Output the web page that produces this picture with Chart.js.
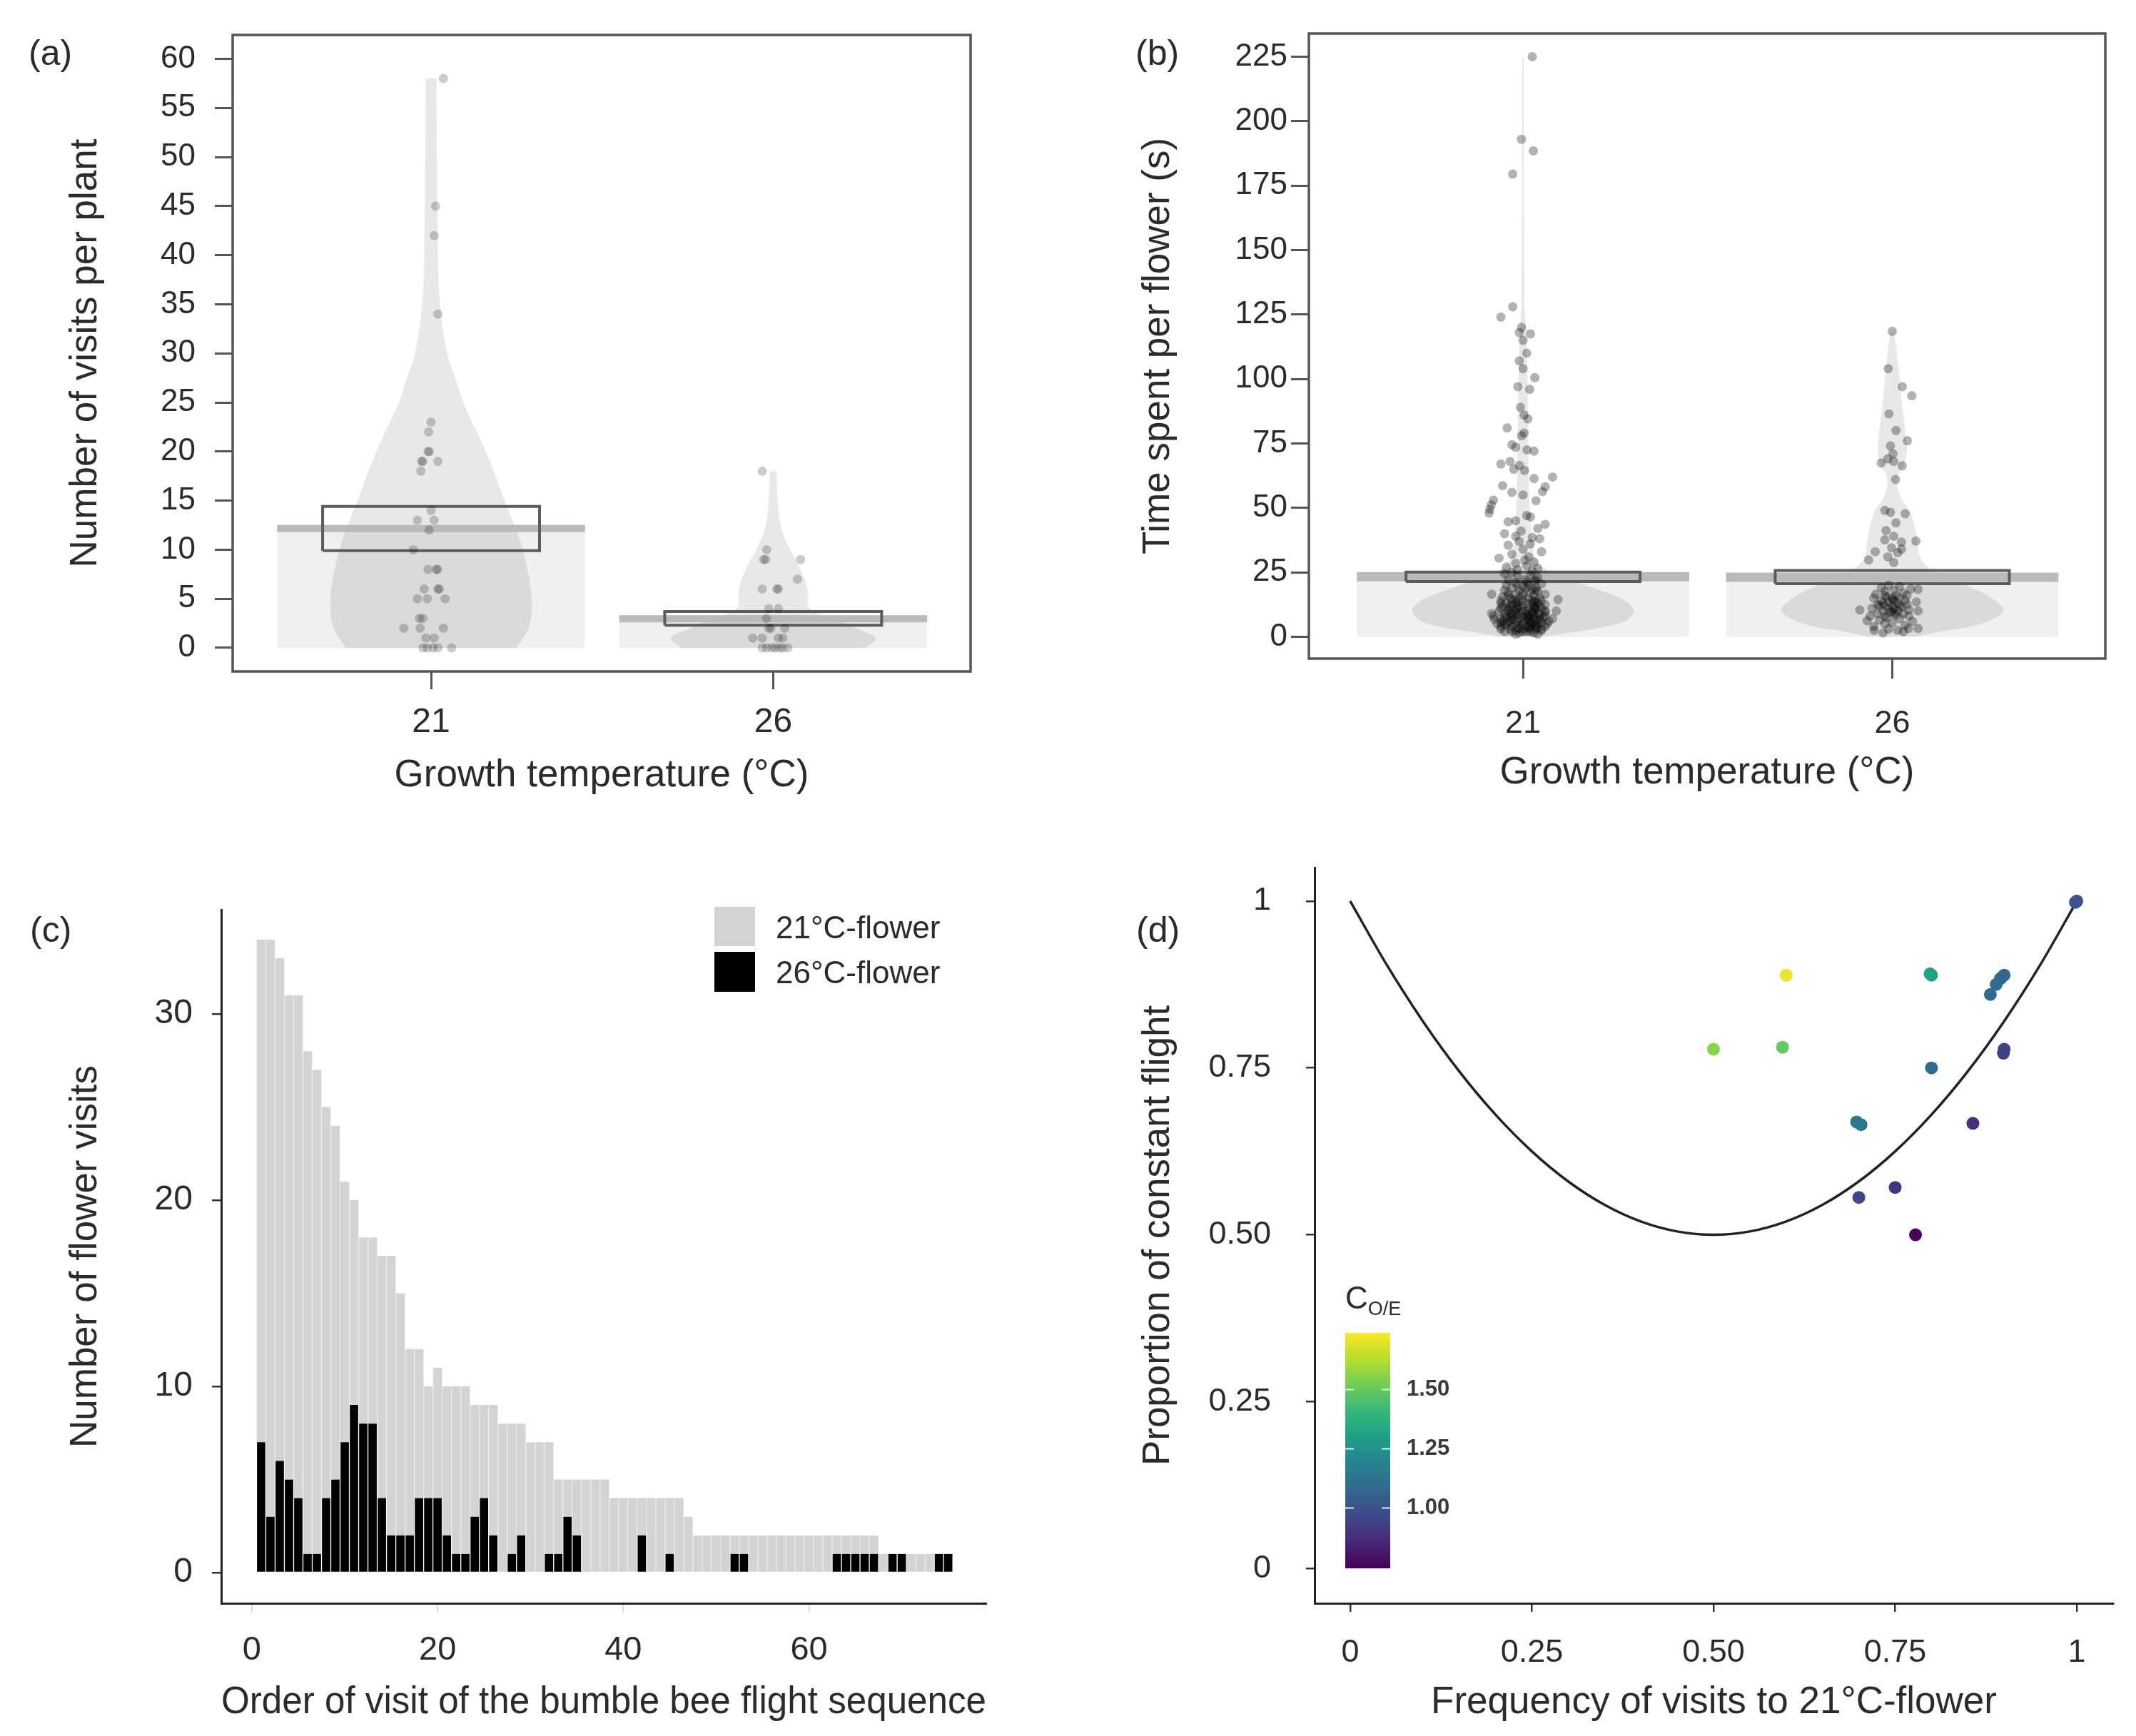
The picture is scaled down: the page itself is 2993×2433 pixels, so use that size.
<!DOCTYPE html>
<html>
<head>
<meta charset="utf-8">
<script src="https://cdn.jsdelivr.net/npm/chart.js@4.4.1/dist/chart.umd.min.js"></script>
<style>
html, body { margin: 0; padding: 0; background: #fff; }
body { width: 2993px; height: 2433px; position: relative; overflow: hidden;
       font-family: 'Liberation Sans', Arial, Helvetica, sans-serif; color: #2b2b2b; }
canvas { position: absolute; }
.txt { position: absolute; transform: translateY(-50%); white-space: nowrap; }
.panel { font-size: 50px; }
.key { position: absolute; }
</style>
</head>
<body>
<canvas id="chartA" width="1450" height="1170" style="left:0;top:0"></canvas>
<canvas id="chartB" width="1493" height="1170" style="left:1500px;top:0"></canvas>
<canvas id="chartC" width="1450" height="1233" style="left:0;top:1200px"></canvas>
<canvas id="chartD" width="1493" height="1233" style="left:1500px;top:1200px"></canvas>
<canvas id="chartBar" width="200" height="330" style="left:1885px;top:1868px"></canvas>

<div class="txt panel" style="left:40px;top:74px">(a)</div>
<div class="txt panel" style="left:1591px;top:74px">(b)</div>
<div class="txt panel" style="left:42px;top:1303px">(c)</div>
<div class="txt panel" style="left:1592px;top:1303px">(d)</div>

<div class="key" style="left:1001px;top:1271px;width:57px;height:55px;background:#d3d3d3"></div>
<div class="key" style="left:1001px;top:1334px;width:57px;height:56px;background:#000"></div>
<div class="txt" style="left:1087px;top:1300px;font-size:44px">21°C-flower</div>
<div class="txt" style="left:1087px;top:1363px;font-size:44px">26°C-flower</div>

<div class="txt" style="left:1885px;top:1822px;font-size:44px">C<sub style="font-size:27px">O/E</sub></div>

<script>
// ---- panel (a): visits per plant ----
const groups = ['21', '26'];
const visitTicks = [0, 5, 10, 15, 20, 25, 30, 35, 40, 45, 50, 55, 60];
const visitMean = [12.15, 2.96];
const visitHdi = [[9.9, 14.4], [2.3, 3.7]];
// violin outline: value levels and half widths (x units)
const visitViolinY21 = [0, 2, 5, 10, 15, 20, 25, 27, 30, 35, 40, 50, 58];
const visitViolinW21 = [0.249, 0.285, 0.294, 0.268, 0.215, 0.16, 0.094, 0.075, 0.047, 0.026, 0.02, 0.017, 0.016];
const visitViolinY26 = [0, 1, 2, 3, 4, 6, 8, 10, 12, 15, 18];
const visitViolinW26 = [0.27, 0.30, 0.243, 0.178, 0.107, 0.1, 0.08, 0.05, 0.025, 0.013, 0.01];
// [value, jitter]
const visitPoints21 = [[58,0.036],[45,0.013],[42,0.009],[34,0.02],[23,0],[22,-0.007],[20,-0.009],[20,-0.005],
  [19,-0.028],[19,-0.024],[19,0.02],[18,-0.03],[14,0],[13,-0.04],[13,0.009],[12,-0.006],[10,-0.052],
  [8,-0.009],[8,0.019],[8,0.015],[6,-0.02],[6,0.02],[6,0.024],[5,-0.04],[5,-0.011],[5,0.041],
  [3,-0.034],[3,-0.024],[2,-0.08],[2,-0.032],[2,0.036],[1,-0.015],[1,0.009],
  [0,-0.024],[0,-0.011],[0,0.006],[0,0.02],[0,0.06]];
const visitPoints26 = [[18,-0.032],[10,-0.019],[9,-0.028],[9,-0.022],[9,0.08],[7,0.071],[6,-0.032],[6,0.015],
  [6,0.011],[4,-0.013],[4,0.015],[3,-0.02],[2,-0.013],[2,-0.007],[2,0.034],[1,-0.06],[1,-0.032],[1,0.015],
  [1,0.028],[0,-0.032],[0,-0.019],[0,-0.004],[0,0.006],[0,0.019],[0,0.028],[0,0.043]];

// ---- panel (b): time per flower ----
const timeTicks = [0, 25, 50, 75, 100, 125, 150, 175, 200, 225];
const timeMean = [23.3, 23.1];
const timeHdi = [[21.4, 25.1], [20.6, 25.7]];
const timeViolinY21 = [0, 1, 3, 6, 10, 14, 18, 22, 26, 30, 40, 60, 80, 100, 120, 130, 225];
const timeViolinW21 = [0.06, 0.1, 0.19, 0.276, 0.30, 0.276, 0.21, 0.13, 0.064, 0.035, 0.023, 0.016, 0.014, 0.012, 0.008, 0.004, 0.002];
const timeViolinY26 = [0, 2, 5, 10, 15, 20, 25, 30, 40, 48, 55, 62, 66, 72, 80, 92, 100, 112, 118];
const timeViolinW26 = [0.06, 0.13, 0.24, 0.30, 0.27, 0.2, 0.12, 0.078, 0.065, 0.05, 0.02, 0.014, 0.03, 0.04, 0.035, 0.025, 0.02, 0.011, 0.004];
const timePoints21 = [[225,0.025],[193,-0.004],[188.5,0.028],[179.5,-0.028],[128,-0.028],[124,-0.06],[120,-0.004],
  [118,-0.01],[117.5,0.02],[115,0],[110,0.01],[107,-0.01],[104,0],[100.5,0.032],[97,-0.014],[96,0.018],
  [89,-0.007],[86,0.003],[84.5,0.013],[81,-0.043],[79,0.003],[78,-0.004],[74.5,-0.03],[73.5,-0.02],
  [72.5,0.011],[72,0.03],[68,-0.035],[67,-0.06],[66.5,-0.01],[65,-0.025],[64.5,0.004],[62,0.08],[61.4,0.03],
  [58.6,-0.055],[58.2,0.06],[56.3,0.053],[56,-0.03],[55,0],[53,-0.08],[52.8,0.035],[51.2,-0.086],[49.5,-0.09],
  [48,-0.092],[47,0.01],[46.5,0.02],[45,-0.02],[44.6,-0.04],[43.6,0.06],[42,0.04],[41,-0.005],[40,-0.05],
  [39,-0.02],[38.5,0.025],[38,0.045],[37,-0.01],[36,0.02],[35.5,-0.04],[34,0],[33,0.05],[32,-0.03],[31,0.015],
  [30.5,-0.065],[29.7,0.005],[29,0.03],[28.5,-0.02],[27.5,0.01],[27,-0.045],[26.5,0.04],[26,-0.015],
  [25.5,0.025],[25,-0.03],
  [1,-0.02],[1.5,0.03],[2,-0.05],[2,0.01],[2.5,0.05],[1,0.04],[2,-0.03],[1.5,-0.01],
  [3,-0.06],[3,0],[3.5,0.04],[3,0.02],[4,-0.03],[4,0.06],[3.5,-0.015],[4,0.01],[4.5,-0.045],[4.5,0.03],
  [5,-0.07],[5,-0.02],[5,0.02],[5.5,0.05],[5.5,-0.04],[6,0],[6,0.035],[6,-0.055],[6.5,0.015],[6.5,-0.025],[5,0.065],[6,0.07],
  [7,-0.06],[7,-0.01],[7,0.03],[7.5,0.055],[7.5,-0.035],[8,0],[8,0.02],[8,-0.045],[8.5,0.04],[8.5,-0.015],[7,0.08],[8,-0.08],
  [9,-0.05],[9,0.01],[9,0.045],[9.5,-0.02],[9.5,0.025],[10,-0.065],[10,0],[10,0.06],[10.5,-0.035],[10.5,0.035],[9,-0.085],[10,0.09],
  [11,-0.04],[11,0.015],[11,0.05],[11.5,-0.01],[12,-0.055],[12,0.03],[12,0],[12.5,0.06],[12.5,-0.03],
  [13,-0.045],[13,0.01],[13,0.04],[13.5,-0.015],[14,0.025],[14,-0.06],[14,0.05],[14.5,-0.02],
  [15,-0.035],[15,0.015],[15,0.045],[15.5,-0.055],[16,0],[16,0.03],[16.5,-0.02],[16.5,0.06],
  [17,-0.04],[17,0.02],[17.5,0.04],[18,-0.01],[18,-0.05],[18.5,0.025],
  [19,-0.03],[19,0.035],[19.5,0],[20,-0.045],[20,0.015],[20.5,0.05],
  [21,-0.02],[21.5,0.03],[22,-0.04],[22,0.005],[23,0.04],[23.5,-0.015],[24,0.02],[24.5,-0.05],
  [16.5,-0.085],[6.8,-0.078],[14.4,0.095],
  [3,-0.035],[3.5,0.015],[4,0.035],[4.5,-0.005],[5,0],[5.5,0.025],[5.5,-0.06],[6,-0.015],[6.5,0.045],[7,0.01],
  [7.5,-0.05],[7.5,0.015],[8,0.06],[8.5,-0.03],[9,-0.01],[9.5,0.06],[10,-0.04],[10,0.025],[11,-0.015],[11.5,0.035],
  [12,-0.035],[13,-0.02],[13.5,0.03],[14,0],[2.5,-0.02],[2,0.02],[3,0.05],[4,-0.06],[6,0.02],[8,0.03],
  [2,0.0],[3,-0.01],[4,0.02],[5,0.04],[5,-0.05],[6,-0.035],[7,0.045],[7,-0.03],[8,0.01],[9,-0.03],
  [9,0.03],[10,0.01],[10,-0.02],[11,0.03],[11,-0.06],[12,0.045],[12,-0.015],[13,-0.06],[13,0.025],[14,0.035],
  [14,-0.03],[15,-0.01],[16,-0.04],[17,0.0],[18,0.035],[19,0.01],[20,-0.015],[21,0.01],[22,0.035],[3,0.035]];
const timePoints26 = [[118.5,0],[104,-0.011],[97,0.027],[93.5,0.053],[86.5,-0.009],[80,0.01],[76,0.041],[74,-0.005],
  [71,0.002],[69,-0.012],[67.4,-0.03],[68,0.004],[66.3,0.027],[61,0.009],[49,-0.02],[48.3,-0.005],[47.7,0.035],
  [44.2,0.01],[41.2,-0.017],[39,0.004],[37.6,-0.02],[37.1,0.064],[36.7,0.025],[34.5,-0.002],[34,0.025],
  [33,-0.046],[32.6,0.015],[31,-0.012],[29.8,-0.064],[28.8,0.004],
  [20,-0.01],[19.5,0.02],[19,-0.03],[18.5,0.05],[18.4,0.07],[18,0.005],[17.5,-0.02],[17,0.03],[16.5,-0.045],
  [16,0.01],[16,0.04],[15.5,-0.015],[15,-0.05],[15,0.02],[14.5,0],[14,0.035],[14,-0.03],[13.5,0.065],
  [13.5,-0.01],[13,0.015],[12.5,-0.04],[12.5,0.04],[12,0],[12,-0.02],[11.5,0.025],[11,-0.055],[11,0.005],
  [10.5,0.045],[10.4,-0.088],[10,0.07],[10,-0.025],[10,0.015],[9.5,-0.005],[9,0.03],[9,-0.04],[8.5,0.01],
  [8,-0.06],[8,0.045],[7.5,-0.015],[7,0.02],[6.5,-0.035],[6.2,-0.068],[6,0.055],[5.5,0],[5,-0.02],[4.5,0.035],
  [4,-0.05],[3.2,0.07],[3.2,0.044],[3,-0.01],[2.5,-0.049],[2.5,0.015],[2,0.03],[1.5,-0.025],
  [14,0.005],[13,-0.025],[12,0.02],[11,-0.01],[10,0.0],[9,0.005],[8,-0.02],[15,0.0],[16,-0.02],[12,-0.035]];

// ---- panel (c): flower visits by order in sequence ----
const visitOrder = [1,2,3,4,5,6,7,8,9,10,11,12,13,14,15,16,17,18,19,20,21,22,23,24,25,26,27,28,29,30,
  31,32,33,34,35,36,37,38,39,40,41,42,43,44,45,46,47,48,49,50,51,52,53,54,55,56,57,58,59,60,
  61,62,63,64,65,66,67,68,69,70,71,72,73,74,75];
const flowers26 = [7,3,6,5,4,1,1,4,5,7, 9,8,8,4,2,2,2,4,4,4, 2,1,1,3,4,2,0,1,2,0,
  0,1,1,3,2,0,0,0,0,0, 0,2,0,0,1,0,0,0,0,0, 0,1,1,0,0,0,0,0,0,0, 0,0,1,1,1,1,1,0,1,1, 0,0,0,1,1];
const flowers21 = [27,31,27,26,27,27,26,21,19,14, 11,10,10,13,15,13,10,8,6,7, 8,9,9,6,5,7,8,7,6,7,
  7,6,4,2,3,5,5,5,4,4, 4,2,4,4,3,4,3,2,2,2, 2,1,1,2,2,2,2,2,2,2, 2,2,1,1,1,1,1,1,0,0, 1,1,1,0,0];
const orderTicks = [0, 20, 40, 60];
const countTicks = [0, 10, 20, 30];

// ---- panel (d): constancy vs frequency ----
const freqTicks = [0, 0.25, 0.5, 0.75, 1];
const freqTickLabels = ['0', '0.25', '0.50', '0.75', '1'];
const expectFreq = [0,0.05,0.1,0.15,0.2,0.25,0.3,0.35,0.4,0.45,0.5,0.55,0.6,0.65,0.7,0.75,0.8,0.85,0.9,0.95,1];
const expectConst = [1,0.905,0.82,0.745,0.68,0.625,0.58,0.545,0.52,0.505,0.5,0.505,0.52,0.545,0.58,0.625,0.68,0.745,0.82,0.905,1];
const beeFreq  = [1.0, 0.998, 0.6, 0.8, 0.798, 0.9, 0.895, 0.889, 0.881, 0.5, 0.595, 0.9, 0.899, 0.8, 0.697, 0.703, 0.857, 0.75, 0.7, 0.778];
const beeConst = [1.0, 0.998, 0.889, 0.889, 0.891, 0.889, 0.884, 0.875, 0.86, 0.778, 0.781, 0.778, 0.772, 0.75, 0.669, 0.665, 0.667, 0.571, 0.556, 0.5];
const beeCoe   = [1.0, 1.0, 1.71, 1.31, 1.31, 1.08, 1.08, 1.10, 1.09, 1.56, 1.50, 0.95, 0.94, 1.10, 1.15, 1.15, 0.88, 0.91, 0.96, 0.76];
const coeRange = [0.745, 1.74];
const coeTicks = [1.0, 1.25, 1.5];
const coeTickLabels = ['1.00', '1.25', '1.50'];

// ---------------------------------------------------------------
Chart.defaults.font.family = "'Liberation Sans', Arial, Helvetica, sans-serif";
Chart.defaults.color = '#2b2b2b';
Chart.defaults.animation = false;
Chart.defaults.events = [];
Chart.defaults.plugins.legend.display = false;
Chart.defaults.plugins.tooltip.enabled = false;

// fixed axis sizes, and no extra label padding pushed into the layout
const noPad = s => { s.paddingTop = 0; s.paddingBottom = 0; s.paddingLeft = 0; s.paddingRight = 0; };
const setTicks = vals => scale => { scale.ticks = vals.map(v => ({ value: v })); };
const fitWidth = w => scale => { scale.width = w; noPad(scale); };
const fitHeight = h => scale => { scale.height = h; noPad(scale); };

const viridis = ['#440154','#482878','#3e4989','#31688e','#26828e','#1f9e89','#35b779','#6ece58','#b5de2b','#fde725'];
function hexRgb(h) { return [1, 3, 5].map(i => parseInt(h.substr(i, 2), 16)); }
function viridisAt(t) {
  t = Math.min(1, Math.max(0, t));
  const n = viridis.length - 1;
  const i = Math.min(n - 1, Math.floor(t * n));
  const f = t * n - i;
  const a = hexRgb(viridis[i]), b = hexRgb(viridis[i + 1]);
  return 'rgb(' + a.map((c, k) => Math.round(c + (b[k] - c) * f)).join(',') + ')';
}

// box around the plotting area for (a) and (b)
const framePlugin = {
  id: 'frame',
  afterDatasetsDraw(chart, args, opts) {
    const { ctx, chartArea: a } = chart;
    ctx.save();
    ctx.strokeStyle = opts.color || '#555';
    ctx.lineWidth = opts.width || 3;
    ctx.strokeRect(a.left, a.top, a.right - a.left, a.bottom - a.top);
    ctx.restore();
  }
};

// one pirate-plot group: points, HDI box, mean line, violin, mean bar (top drawn first)
function pirateSets(pos, mean, hdi, vY, vW, pts, radius, alpha, meanWidth) {
  const hw = 0.317, bw = 0.45;
  return [
    { type: 'scatter', data: pts.map(p => ({ x: pos + p[1], y: p[0] })),
      pointRadius: radius, pointBackgroundColor: 'rgba(0,0,0,' + alpha + ')', pointBorderWidth: 0 },
    { type: 'line', data: [{ x: pos - hw, y: hdi[0] }, { x: pos + hw, y: hdi[0] }, { x: pos + hw, y: hdi[1] },
        { x: pos - hw, y: hdi[1] }, { x: pos - hw, y: hdi[0] }],
      borderColor: '#5c5c5c', borderWidth: 4, pointRadius: 0, fill: false },
    { type: 'line', data: [{ x: pos - bw, y: mean }, { x: pos + bw, y: mean }],
      borderColor: '#bababa', borderWidth: meanWidth, borderCapStyle: 'butt', pointRadius: 0, fill: false },
    { type: 'line', indexAxis: 'y', data: vY.map((v, i) => ({ x: pos - vW[i], y: v })),
      borderWidth: 0, pointRadius: 0, tension: 0.35, fill: false },
    { type: 'line', indexAxis: 'y', data: vY.map((v, i) => ({ x: pos + vW[i], y: v })),
      borderWidth: 0, pointRadius: 0, tension: 0.35, fill: '-1', backgroundColor: 'rgba(0,0,0,0.09)' },
    { type: 'line', data: [{ x: pos - bw, y: mean }, { x: pos + bw, y: mean }],
      borderWidth: 0, pointRadius: 0, fill: 'origin', backgroundColor: '#f0f0f0' }
  ];
}

function pirateOptions(cfg) {
  return {
    responsive: false, devicePixelRatio: 1,
    layout: { padding: cfg.padding },
    scales: {
      x: {
        type: 'linear', min: 0.42, max: 2.577, bounds: 'data',
        afterBuildTicks: setTicks([1, 2]), afterFit: fitHeight(cfg.xHeight),
        ticks: { callback: (v, i) => groups[i], font: { size: cfg.xTickSize }, padding: cfg.xTickPad, maxRotation: 0 },
        grid: { display: true, drawOnChartArea: false, drawTicks: true, tickLength: cfg.tickLen, color: '#555', lineWidth: 3 },
        border: { display: false },
        title: { display: true, text: 'Growth temperature (°C)', font: { size: 53 }, padding: { top: 0, bottom: cfg.xTitlePad } }
      },
      y: {
        type: 'linear', min: cfg.yMin, max: cfg.yMax, bounds: 'data',
        afterBuildTicks: setTicks(cfg.yTicks), afterFit: fitWidth(cfg.yWidth),
        ticks: { callback: (v, i) => String(cfg.yTicks[i]), font: { size: 44 }, padding: cfg.yTickPad },
        grid: { display: true, drawOnChartArea: false, drawTicks: true, tickLength: 25, color: '#555', lineWidth: 3 },
        border: { display: false },
        title: { display: true, text: cfg.yTitle, font: { size: 53 }, padding: { top: cfg.yTitlePad, bottom: 0 } }
      }
    },
    plugins: { frame: { color: '#555', width: 3.5 } }
  };
}

// (a)
new Chart(document.getElementById('chartA'), {
  type: 'scatter',
  data: { datasets: [
    ...pirateSets(1, visitMean[0], visitHdi[0], visitViolinY21, visitViolinW21, visitPoints21, 6.5, 0.2, 10),
    ...pirateSets(2, visitMean[1], visitHdi[1], visitViolinY26, visitViolinW26, visitPoints26, 6.5, 0.2, 10)
  ] },
  options: pirateOptions({
    padding: { left: 0, top: 49, right: 90, bottom: 0 },
    xHeight: 229, xTickSize: 48, xTickPad: 18, tickLen: 25, xTitlePad: 51,
    yMin: -2.4, yMax: 62.43, yTicks: visitTicks, yWidth: 326, yTickPad: 27,
    yTitle: 'Number of visits per plant', yTitlePad: 89
  }),
  plugins: [framePlugin]
});

// (b)
new Chart(document.getElementById('chartB'), {
  type: 'scatter',
  data: { datasets: [
    ...pirateSets(1, timeMean[0], timeHdi[0], timeViolinY21, timeViolinW21, timePoints21, 6.5, 0.3, 13),
    ...pirateSets(2, timeMean[1], timeHdi[1], timeViolinY26, timeViolinW26, timePoints26, 6.5, 0.3, 13)
  ] },
  options: pirateOptions({
    padding: { left: 0, top: 47, right: 43, bottom: 0 },
    xHeight: 247, xTickSize: 45, xTickPad: 37, tickLen: 28, xTitlePad: 55,
    yMin: -8.47, yMax: 234.0, yTicks: timeTicks, yWidth: 334, yTickPad: 5,
    yTitle: 'Time spent per flower (s)', yTitlePad: 92
  }),
  plugins: [framePlugin]
});

// (c)
new Chart(document.getElementById('chartC'), {
  type: 'bar',
  data: { datasets: [
    { label: '26°C-flower', data: visitOrder.map((o, i) => ({ x: o, y: flowers26[i] })),
      backgroundColor: '#000', borderColor: 'rgba(255,255,255,0.3)',
      borderWidth: { left: 1, right: 1, top: 0, bottom: 0 }, barPercentage: 1, categoryPercentage: 1 },
    { label: '21°C-flower', data: visitOrder.map((o, i) => ({ x: o, y: flowers21[i] })),
      backgroundColor: '#d3d3d3', borderColor: '#ebebeb',
      borderWidth: { left: 1, right: 1, top: 0, bottom: 0 }, barPercentage: 1, categoryPercentage: 1 }
  ] },
  options: {
    responsive: false, devicePixelRatio: 1,
    layout: { padding: { left: 0, top: 75, right: 68, bottom: 0 } },
    scales: {
      x: {
        type: 'linear', stacked: true, offset: false, min: -3.3, max: 79.1, bounds: 'data',
        afterBuildTicks: setTicks(orderTicks), afterFit: fitHeight(186),
        ticks: { callback: (v, i) => String(orderTicks[i]), font: { size: 47 }, padding: 25, maxRotation: 0 },
        grid: { display: true, offset: false, drawOnChartArea: false, tickLength: 13, color: '#dcdcdc', lineWidth: 2 },
        border: { display: true, color: '#222', width: 3 },
        title: { display: true, text: 'Order of visit of the bumble bee flight sequence', font: { size: 53 }, padding: { top: 0, bottom: 15 } }
      },
      y: {
        type: 'linear', stacked: true, min: -1.65, max: 35.6, bounds: 'data',
        afterBuildTicks: setTicks(countTicks), afterFit: fitWidth(310),
        ticks: { callback: (v, i) => String(countTicks[i]), font: { size: 48 }, padding: 27 },
        grid: { display: true, drawOnChartArea: false, tickLength: 13, color: '#333', lineWidth: 2.5 },
        border: { display: true, color: '#222', width: 3 },
        title: { display: true, text: 'Number of flower visits', font: { size: 53 }, padding: { top: 89, bottom: 0 } }
      }
    }
  }
});

// (d)
new Chart(document.getElementById('chartD'), {
  type: 'scatter',
  data: { datasets: [
    { type: 'scatter', data: beeFreq.map((f, i) => ({ x: f, y: beeConst[i] })),
      pointRadius: 9, pointBorderWidth: 0,
      pointBackgroundColor: beeCoe.map(c => viridisAt((c - coeRange[0]) / (coeRange[1] - coeRange[0]))) },
    { type: 'line', data: expectFreq.map((f, i) => ({ x: f, y: expectConst[i] })),
      borderColor: '#222', borderWidth: 3.5, pointRadius: 0, cubicInterpolationMode: 'monotone', fill: false }
  ] },
  options: {
    responsive: false, devicePixelRatio: 1,
    layout: { padding: { left: 0, top: 16, right: 32, bottom: 0 } },
    scales: {
      x: {
        type: 'linear', min: -0.049, max: 1.05, bounds: 'data',
        afterBuildTicks: setTicks(freqTicks), afterFit: fitHeight(186),
        ticks: { callback: (v, i) => freqTickLabels[i], font: { size: 45 }, padding: 31, maxRotation: 0 },
        grid: { display: true, drawOnChartArea: false, tickLength: 12, color: '#333', lineWidth: 2.5 },
        border: { display: true, color: '#222', width: 3 },
        title: { display: true, text: 'Frequency of visits to 21°C-flower', font: { size: 53 }, padding: { top: 0, bottom: 15 } }
      },
      y: {
        type: 'linear', min: -0.052, max: 1.05, bounds: 'data',
        afterBuildTicks: setTicks(freqTicks), afterFit: fitWidth(342),
        ticks: { callback: (v, i) => freqTickLabels[i], font: { size: 45 }, padding: 49 },
        grid: { display: true, drawOnChartArea: false, tickLength: 12, color: '#333', lineWidth: 2.5 },
        border: { display: true, color: '#222', width: 3 },
        title: { display: true, text: 'Proportion of constant flight', font: { size: 53 }, padding: { top: 92, bottom: 0 } }
      }
    }
  }
});

// colour bar for C_O/E
const barTicksPlugin = {
  id: 'barTicks',
  afterDatasetsDraw(chart) {
    const { ctx, chartArea: a, scales: { y } } = chart;
    ctx.save();
    ctx.strokeStyle = 'rgba(255,255,255,0.85)';
    ctx.lineWidth = 2;
    y.ticks.forEach(t => {
      const py = y.getPixelForValue(t.value);
      ctx.beginPath();
      ctx.moveTo(a.left, py); ctx.lineTo(a.left + 12, py);
      ctx.moveTo(a.right - 12, py); ctx.lineTo(a.right, py);
      ctx.stroke();
    });
    ctx.restore();
  }
};
new Chart(document.getElementById('chartBar'), {
  type: 'bar',
  data: { labels: [''], datasets: [{
    data: [coeRange],
    barPercentage: 1, categoryPercentage: 1, borderWidth: 0,
    backgroundColor: (c) => {
      const a = c.chart.chartArea;
      if (!a) return '#21918c';
      const g = c.chart.ctx.createLinearGradient(0, a.bottom, 0, a.top);
      viridis.forEach((col, i) => g.addColorStop(i / (viridis.length - 1), col));
      return g;
    }
  }] },
  options: {
    responsive: false, devicePixelRatio: 1,
    layout: { padding: 0 },
    scales: {
      x: { display: false },
      y: {
        position: 'right', min: coeRange[0], max: coeRange[1], bounds: 'data',
        afterBuildTicks: setTicks(coeTicks), afterFit: fitWidth(137),
        ticks: { callback: (v, i) => coeTickLabels[i], font: { size: 31, weight: 'bold' }, color: '#3a3a3a', padding: 23 },
        grid: { display: false, drawTicks: false },
        border: { display: false }
      }
    }
  },
  plugins: [barTicksPlugin]
});
</script>
</body>
</html>
